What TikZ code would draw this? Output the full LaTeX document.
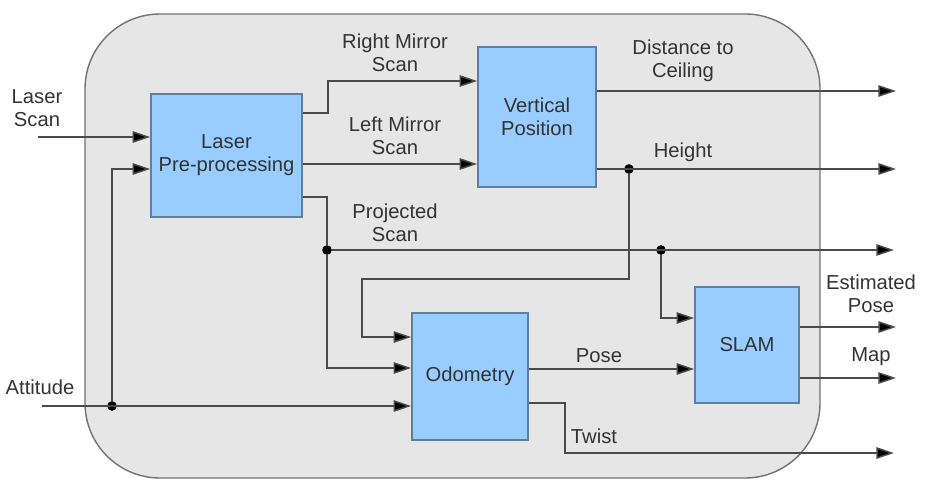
\documentclass[tikz,border=0pt]{standalone}
\usepackage{fontspec}
\setmainfont{Liberation Sans}
\usepackage{tikz}
\usetikzlibrary{arrows.meta}

\definecolor{boxblue}{HTML}{99CCFF}
\definecolor{boxline}{HTML}{5F7F9F}
\definecolor{wire}{HTML}{4A4A4A}
\definecolor{frame}{HTML}{E6E6E6}
\definecolor{txt}{HTML}{333333}

\tikzset{
  block/.style={draw=boxline,fill=boxblue,line width=0.9pt,text=txt,align=center,
    font=\fontsize{11.5}{13}\selectfont,inner sep=0pt},
  sig/.style={draw=wire,line width=0.85pt,-{Triangle[length=10pt,width=6.5pt,fill=black]}},
  wireline/.style={draw=wire,line width=0.85pt},
  lbl/.style={text=txt,align=center,font=\fontsize{11.5}{13}\selectfont,inner sep=0pt},
  joint/.style={circle,fill=black,inner sep=0pt,minimum size=5.5pt}
}

\begin{document}
\begin{tikzpicture}[x=0.02cm,y=-0.02cm]
\useasboundingbox (0,0) rectangle (925,486);
% enclosing frame
\draw[draw=gray!90!black,fill=frame,line width=0.8pt,rounded corners=1.5cm] (85,14) rectangle (820,478);

% blocks
\node[block,minimum width=3.02cm,minimum height=2.46cm] (lpp) at (226.5,155.5) {Laser\\Pre-processing};
\node[block,minimum width=2.36cm,minimum height=2.80cm] (vp) at (537,117) {Vertical\\Position};
\node[block,minimum width=2.32cm,minimum height=2.54cm] (odo) at (470,376.5) {Odometry};
\node[block,minimum width=2.08cm,minimum height=2.32cm] (slam) at (747,345) {SLAM};

% inputs and outputs
\coordinate (inscan) at (38,137);
\coordinate (inatt) at (42,406);
\coordinate (outdist) at (896,91);
\coordinate (outheight) at (896,169);
\coordinate (outproj) at (894,250);
\coordinate (outest) at (896,327);
\coordinate (outmap) at (896,378);
\coordinate (outtwist) at (894,453);

% junctions
\node[joint] (jatt) at (112,406) {};
\node[joint] (jproj) at (327,250) {};
\node[joint] (jslam) at (661,250) {};
\node[joint] (jheight) at (629,169) {};

% connectors
\draw[sig] (inscan) -- (lpp.west |- inscan);
\draw[sig] (inatt) -- (odo.west |- inatt);
\draw[sig] (jatt) |- (lpp.west |- 0,169);
\draw[sig] (lpp.east |- 0,113) -- ++(25,0) |- (vp.west |- 0,81);
\draw[sig] (lpp.east |- 0,164) -- (vp.west |- 0,164);
\draw[wireline] (lpp.east |- 0,197) -| (jproj);
\draw[sig] (jproj) -- (outproj);
\draw[sig] (jproj) |- (odo.west |- 0,368);
\draw[sig] (jslam) |- (slam.west |- 0,318);
\draw[sig] (vp.east |- outdist) -- (outdist);
\draw[sig] (vp.east |- outheight) -- (outheight);
\draw[sig] (jheight) |- (362,279) |- (odo.west |- 0,337);
\draw[sig] (odo.east |- 0,369) -- (slam.west |- 0,369);
\draw[sig] (odo.east |- 0,403) -- ++(36,0) |- (outtwist);
\draw[sig] (slam.east |- outest) -- (outest);
\draw[sig] (slam.east |- outmap) -- (outmap);

% labels
\node[lbl] (lscan) at (37,108) {Laser\\Scan};
\node[lbl] (latt) at (40,387) {Attitude};
\node[lbl] (lright) at (395,53) {Right Mirror\\Scan};
\node[lbl] (lleft) at (395,136) {Left Mirror\\Scan};
\node[lbl] (lproj) at (395,223) {Projected\\Scan};
\node[lbl] (ldist) at (683,61) {Distance to\\Ceiling};
\node[lbl] (lheight) at (683,152) {Height};
\node[lbl] (lest) at (871,294) {Estimated\\Pose};
\node[lbl] (lmap) at (871,357) {Map};
\node[lbl] (lpose) at (599,356) {Pose};
\node[lbl] (ltwist) at (594,436) {Twist};
\end{tikzpicture}
\end{document}
